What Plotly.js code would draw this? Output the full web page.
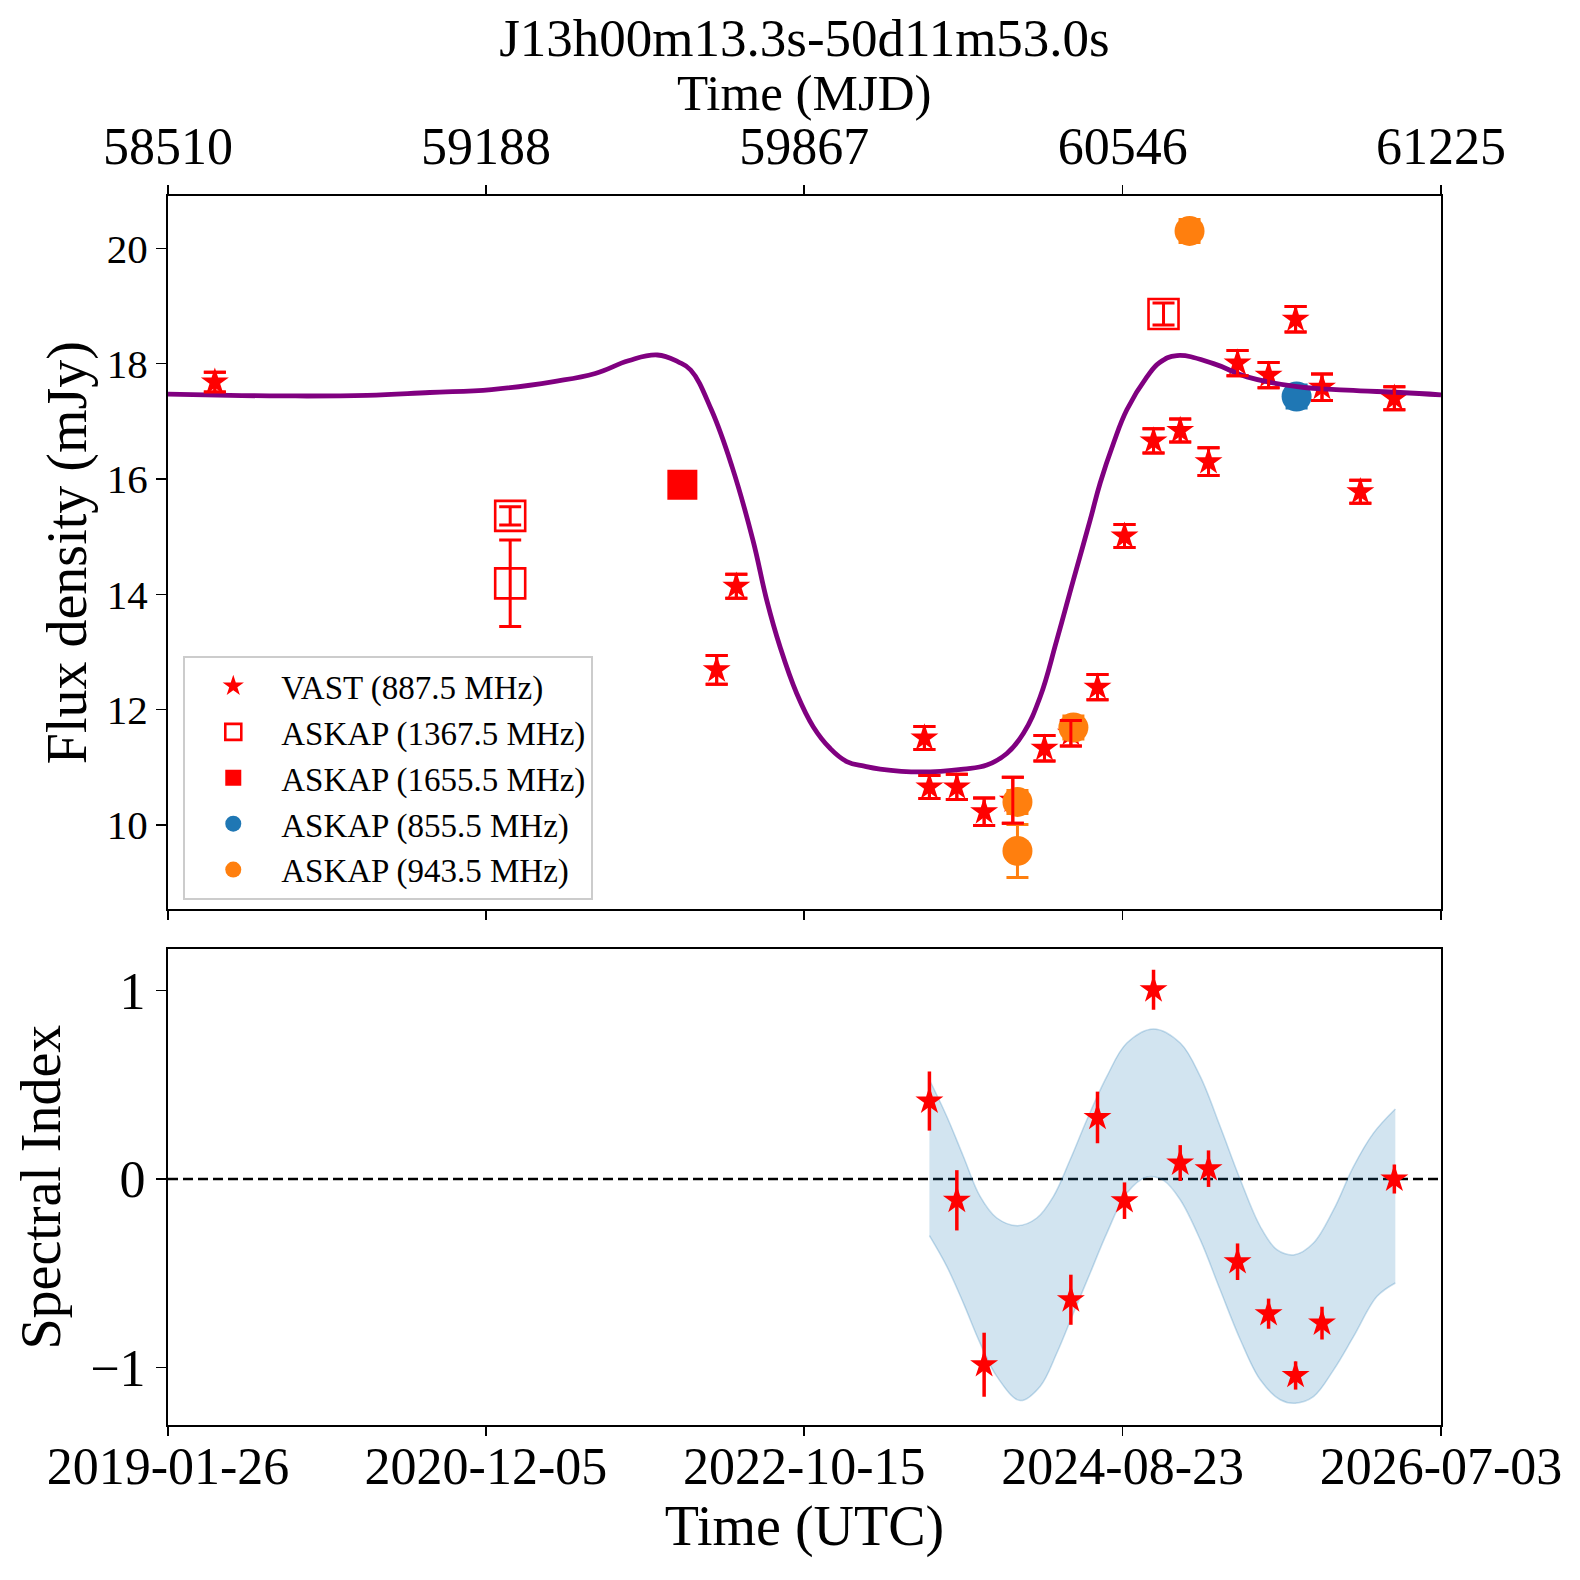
<!DOCTYPE html>
<html>
<head>
<meta charset="utf-8">
<script src="https://cdn.plot.ly/plotly-3.0.1.min.js"></script>
<style>html,body{margin:0;padding:0;background:#fff;}</style>
</head>
<body>
<div id="chart" style="width:1580px;height:1580px;"></div>
<script>
// ---------- data ----------
const mjdTicks = [58510, 59188, 59867, 60546, 61225];
const mjdTickText = ['58510', '59188', '59867', '60546', '61225'];
const utcTickText = ['2019-01-26', '2020-12-05', '2022-10-15', '2024-08-23', '2026-07-03'];
const fluxTicks = [10, 12, 14, 16, 18, 20];
const siTicks = [-1, 0, 1];
const siTickText = ['\u22121', '0', '1'];

// VAST (887.5 MHz)
const vastMJD = [58609.9, 59680.2, 59722.1, 60123.2, 60133.9, 60192.4, 60250.6, 60311.8, 60379.3, 60435.6, 60492.4, 60550.0, 60611.9, 60668.8, 60729.2, 60791.1, 60857.3, 60914.9, 60971.2, 61053.0, 61125.5];
const vastFlux = [17.68, 12.69, 14.14, 11.51, 10.66, 10.66, 10.23, 10.43, 11.33, 11.59, 12.39, 15.01, 16.66, 16.84, 16.30, 18.01, 17.80, 18.77, 17.59, 15.78, 17.40];
const vastErr = [0.17, 0.25, 0.21, 0.20, 0.20, 0.22, 0.24, 0.40, 0.22, 0.22, 0.22, 0.20, 0.21, 0.20, 0.24, 0.22, 0.22, 0.22, 0.23, 0.20, 0.20];

// ASKAP (1367.5 MHz)
const a1367MJD = [59239.8, 59239.8, 60633.2];
const a1367Flux = [15.36, 14.19, 18.86];
const a1367Err = [0.16, 0.75, 0.19];

// ASKAP (1655.5 MHz)
const a1655MJD = [59607.0];
const a1655Flux = [15.90];
const a1655Err = [0.20];

// ASKAP (855.5 MHz)
const a855MJD = [60917.0];
const a855Flux = [17.43];
const a855Err = [0.20];

// ASKAP (943.5 MHz)
const a943MJD = [60321.7, 60321.7, 60441.0, 60688.7];
const a943Flux = [10.40, 9.55, 11.69, 20.30];
const a943Err = [0.20, 0.46, 0.20, 0.20];

// model curve
const modelMJD = [58510, 58641.7, 58757.7, 58934.6, 59068.4, 59200, 59332.8, 59421.2, 59492, 59553.9, 59598.1, 59624.7, 59668.9, 59713.1, 59757.5, 59786.9, 59815.3, 59850.9, 59886.4, 59922, 59957.6, 59995, 60028.7, 60114, 60206.4, 60256.4, 60299, 60334.5, 60370, 60405.7, 60441, 60476.8, 60498.1, 60526.5, 60555, 60597.8, 60625, 60661.8, 60739.9, 60811.2, 60917.9, 61024.6, 61138.3, 61225];
const modelFlux = [17.47, 17.45, 17.44, 17.45, 17.50, 17.55, 17.69, 17.83, 18.05, 18.15, 18.03, 17.89, 17.20, 16.21, 14.94, 13.90, 13.09, 12.28, 11.70, 11.33, 11.10, 11.02, 10.97, 10.92, 10.97, 11.04, 11.24, 11.59, 12.22, 13.21, 14.25, 15.29, 15.93, 16.62, 17.20, 17.77, 18.02, 18.14, 18.00, 17.77, 17.60, 17.54, 17.50, 17.46];

// spectral index
const siMJD = [60133.9, 60192.4, 60250.6, 60435.6, 60492.4, 60550.0, 60611.9, 60668.8, 60729.2, 60791.1, 60857.3, 60914.9, 60971.2, 61125.5];
const siValue = [0.414, -0.113, -0.986, -0.641, 0.327, -0.115, 1.005, 0.085, 0.055, -0.439, -0.715, -1.043, -0.765, 0.0];
const siErr = [0.157, 0.16, 0.17, 0.133, 0.137, 0.097, 0.106, 0.095, 0.097, 0.097, 0.08, 0.075, 0.087, 0.077];

// spectral index band
const bandUpperMJD = [60133.9, 60171, 60206.4, 60242, 60277.7, 60321.7, 60363, 60398.5, 60434, 60469.8, 60512.4, 60555, 60611.9, 60668.8, 60711.5, 60754, 60797, 60839.5, 60875, 60912.8, 60953, 60996, 61038.6, 61081, 61127.6];
const bandUpper = [0.527, 0.332, 0.12, -0.092, -0.207, -0.248, -0.207, -0.092, 0.102, 0.315, 0.545, 0.722, 0.797, 0.722, 0.545, 0.279, -0.004, -0.252, -0.375, -0.402, -0.34, -0.163, 0.067, 0.244, 0.372];
const bandLowerMJD = [60133.9, 60171, 60206.4, 60242, 60277.7, 60327.4, 60370, 60405.7, 60441, 60476.8, 60512.4, 60555, 60597.8, 60633.2, 60668.8, 60711.5, 60754, 60797, 60839.5, 60882, 60914, 60953, 60996, 61038.6, 61088.6, 61127.6];
const bandLower = [-0.301, -0.464, -0.659, -0.871, -1.048, -1.176, -1.101, -0.924, -0.712, -0.499, -0.287, -0.074, 0.011, -0.007, -0.11, -0.322, -0.588, -0.853, -1.066, -1.172, -1.19, -1.155, -1.013, -0.836, -0.623, -0.552];

// ---------- traces ----------
const RED = '#ff0000', BLUE = '#1f77b4', ORANGE = '#ff7f0e', PURPLE = '#800080';
const capErr = (arr, color) => ({type: 'data', array: arr, visible: true, color: color, thickness: 3, width: 11});

const traces = [];
traces.push({
  x: vastMJD, y: vastFlux, xaxis: 'x', yaxis: 'y', type: 'scatter', mode: 'markers',
  name: 'VAST (887.5 MHz)',
  marker: {symbol: 'star', size: 21, color: RED, line: {width: 0}},
  error_y: capErr(vastErr, RED)
});
traces.push({
  x: a1367MJD, y: a1367Flux, xaxis: 'x', yaxis: 'y', type: 'scatter', mode: 'markers',
  name: 'ASKAP (1367.5 MHz)',
  marker: {symbol: 'square-open', size: 30, color: RED, line: {width: 2.6, color: RED}},
  error_y: capErr(a1367Err, RED)
});
traces.push({
  x: a1655MJD, y: a1655Flux, xaxis: 'x', yaxis: 'y', type: 'scatter', mode: 'markers',
  name: 'ASKAP (1655.5 MHz)',
  marker: {symbol: 'square', size: 30, color: RED, line: {width: 0}},
  error_y: capErr(a1655Err, RED)
});
traces.push({
  x: a855MJD, y: a855Flux, xaxis: 'x', yaxis: 'y', type: 'scatter', mode: 'markers',
  name: 'ASKAP (855.5 MHz)',
  marker: {symbol: 'circle', size: 30, color: BLUE, line: {width: 0}},
  error_y: capErr(a855Err, BLUE)
});
traces.push({
  x: a943MJD, y: a943Flux, xaxis: 'x', yaxis: 'y', type: 'scatter', mode: 'markers',
  name: 'ASKAP (943.5 MHz)',
  marker: {symbol: 'circle', size: 30, color: ORANGE, line: {width: 0}},
  error_y: capErr(a943Err, ORANGE)
});
traces.push({
  x: modelMJD, y: modelFlux, xaxis: 'x', yaxis: 'y', type: 'scatter', mode: 'lines',
  line: {color: PURPLE, width: 4.8, shape: 'spline', smoothing: 1.2},
  showlegend: false, hoverinfo: 'skip'
});
// VAST error bars drawn on top of the other markers
traces.push({
  x: vastMJD, y: vastFlux, xaxis: 'x', yaxis: 'y', type: 'scatter', mode: 'markers',
  marker: {size: 2, color: 'rgba(0,0,0,0)'},
  error_y: capErr(vastErr, RED),
  showlegend: false, hoverinfo: 'skip'
});

// bottom panel: band between lower and upper curves
traces.push({
  x: bandLowerMJD, y: bandLower, xaxis: 'x2', yaxis: 'y2', type: 'scatter', mode: 'lines',
  line: {color: 'rgba(31,119,180,0.25)', width: 1.5, shape: 'spline', smoothing: 1.0},
  showlegend: false, hoverinfo: 'skip'
});
traces.push({
  x: bandUpperMJD, y: bandUpper, xaxis: 'x2', yaxis: 'y2', type: 'scatter', mode: 'lines',
  fill: 'tonexty', fillcolor: 'rgba(31,119,180,0.2)',
  line: {color: 'rgba(31,119,180,0.25)', width: 1.5, shape: 'spline', smoothing: 1.0},
  showlegend: false, hoverinfo: 'skip'
});
traces.push({
  x: siMJD, y: siValue, xaxis: 'x2', yaxis: 'y2', type: 'scatter', mode: 'markers',
  marker: {symbol: 'star', size: 21, color: RED, line: {width: 0}},
  error_y: {type: 'data', array: siErr, visible: true, color: RED, thickness: 3.5, width: 0},
  showlegend: false
});

// ---------- layout ----------
const FONT = 'Liberation Serif, Times New Roman, serif';
const axCommon = {
  showline: true, linecolor: 'black', linewidth: 2,
  ticks: 'outside', tickcolor: 'black', tickwidth: 1.6,
  showgrid: false, zeroline: false, tickmode: 'array'
};

const layout = {
  width: 1580, height: 1580,
  margin: {l: 168, r: 139, t: 196, b: 155, pad: 0},
  paper_bgcolor: 'white', plot_bgcolor: 'white',
  font: {family: FONT, color: 'black', size: 52},
  title: {
    text: 'J13h00m13.3s-50d11m53.0s',
    font: {family: FONT, size: 53, color: 'black'},
    xref: 'paper', x: 0.5, xanchor: 'center',
    yref: 'container', y: 1 - 37 / 1580, yanchor: 'middle'
  },
  xaxis: Object.assign({}, axCommon, {
    anchor: 'y', side: 'top', domain: [0, 1], range: [58510, 61225],
    tickvals: mjdTicks, ticktext: mjdTickText, ticklen: 9, mirror: 'ticks',
    tickfont: {family: FONT, size: 52}
  }),
  yaxis: Object.assign({}, axCommon, {
    anchor: 'x', domain: [0.4196, 1], range: [8.538, 20.907],
    tickvals: fluxTicks, ticktext: fluxTicks.map(String), ticklen: 10, mirror: true,
    tickfont: {family: FONT, size: 41},
    title: {text: 'Flux density (mJy)', font: {family: FONT, size: 56}, standoff: 2}
  }),
  xaxis2: Object.assign({}, axCommon, {
    anchor: 'y2', domain: [0, 1], range: [58510, 61225],
    tickvals: mjdTicks, ticktext: utcTickText, ticklen: 9, mirror: true,
    tickfont: {family: FONT, size: 52}, ticklabelstandoff: -14,
    title: {text: 'Time (UTC)', font: {family: FONT, size: 56}, standoff: 6}
  }),
  yaxis2: Object.assign({}, axCommon, {
    anchor: 'x2', domain: [0, 0.3871], range: [-1.306, 1.22],
    tickvals: siTicks, ticktext: siTickText, ticklen: 10, mirror: true,
    tickfont: {family: FONT, size: 52},
    title: {text: 'Spectral Index', font: {family: FONT, size: 56}, standoff: 12}
  }),
  annotations: [{
    text: 'Time (MJD)', showarrow: false,
    xref: 'paper', x: 0.5, xanchor: 'center',
    yref: 'paper', y: (1425 - 93) / 1229, yanchor: 'middle',
    font: {family: FONT, size: 51, color: 'black'}
  }],
  showlegend: true,
  legend: {
    x: 0.012, y: 0.6257, xanchor: 'left', yanchor: 'top',
    traceorder: 'normal',
    bgcolor: 'rgba(255,255,255,0.85)', bordercolor: '#cccccc', borderwidth: 2,
    font: {family: FONT, size: 33, color: 'black'},
    itemwidth: 86, tracegroupgap: 0
  },
  shapes: [{
    type: 'line', xref: 'x2 domain', x0: 0, x1: 1, yref: 'y2', y0: 0, y1: 0,
    line: {color: 'black', width: 2.5, dash: '10px,5px'}, layer: 'below'
  }]
};

Plotly.newPlot('chart', traces, layout, {staticPlot: true, displayModeBar: false});
</script>
</body>
</html>
